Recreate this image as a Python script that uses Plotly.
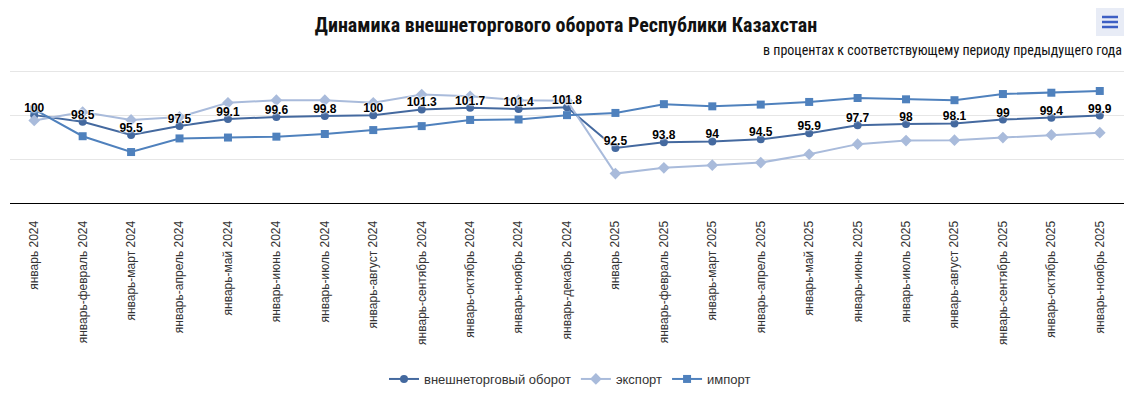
import plotly.graph_objects as go

categories = [
    "январь 2024", "январь-февраль 2024", "январь-март 2024", "январь-апрель 2024",
    "январь-май 2024", "январь-июнь 2024", "январь-июль 2024", "январь-август 2024",
    "январь-сентябрь 2024", "январь-октябрь 2024", "январь-ноябрь 2024", "январь-декабрь 2024",
    "январь 2025", "январь-февраль 2025", "январь-март 2025", "январь-апрель 2025",
    "январь-май 2025", "январь-июнь 2025", "январь-июль 2025", "январь-август 2025",
    "январь-сентябрь 2025", "январь-октябрь 2025", "январь-ноябрь 2025",
]
turnover = [100, 98.5, 95.5, 97.5, 99.1, 99.6, 99.8, 100, 101.3, 101.7, 101.4, 101.8,
            92.5, 93.8, 94, 94.5, 95.9, 97.7, 98, 98.1, 99, 99.4, 99.9]
export = [98.8, 100.7, 98.9, 99.6, 102.8, 103.4, 103.4, 102.8, 104.7, 104.3, 103.4, 103.3,
          86.7, 88.0, 88.6, 89.2, 91.1, 93.4, 94.2, 94.3, 94.9, 95.5, 96.0]
imports = [101.3, 95.2, 91.6, 94.7, 94.9, 95.1, 95.7, 96.6, 97.5, 98.9, 99.0, 100.0,
           100.5, 102.5, 102.0, 102.4, 103.0, 103.9, 103.6, 103.4, 104.8, 105.1, 105.5]

C_TURN = "#44699f"
C_EXP = "#a9bbdb"
C_IMP = "#4f81bd"

# the page body has an 8px margin, so the figure is drawn 8px in from the window edge
OFF = 8
W, H = 1133 - OFF, 398 - OFF
PLOT_LEFT, PLOT_RIGHT = 10 - OFF, 1124 - OFF
PLOT_TOP, PLOT_BOTTOM = 69 - OFF, 203 - OFF
PW = PLOT_RIGHT - PLOT_LEFT
PH = PLOT_BOTTOM - PLOT_TOP


def px(pix):
    return (pix - OFF - PLOT_LEFT) / PW


def py(pix):
    return (PLOT_BOTTOM - (pix - OFF)) / PH


fig = go.Figure()
fig.add_trace(go.Scatter(
    x=categories, y=turnover, name="внешнеторговый оборот", mode="lines+markers",
    line=dict(color=C_TURN, width=2), marker=dict(symbol="circle", size=8, color=C_TURN),
))
fig.add_trace(go.Scatter(
    x=categories, y=export, name="экспорт", mode="lines+markers",
    line=dict(color=C_EXP, width=2), marker=dict(symbol="diamond", size=9, color=C_EXP),
))
fig.add_trace(go.Scatter(
    x=categories, y=imports, name="импорт", mode="lines+markers",
    line=dict(color=C_IMP, width=2), marker=dict(symbol="square", size=8, color=C_IMP),
))
fig.add_trace(go.Scatter(
    x=categories, y=turnover, mode="text", showlegend=False, hoverinfo="skip",
    text=[f"{v:g}" for v in turnover], textposition="top center",
    textfont=dict(family="Liberation Sans, Arial", size=12, color="#000000",
                  weight="bold", shadow="0 0 2px #fff, 0 0 2px #fff, 0 0 2px #fff"),
    cliponaxis=False,
))

fig.update_layout(
    width=W, height=H,
    margin=dict(l=PLOT_LEFT, r=W - PLOT_RIGHT, t=PLOT_TOP, b=H - PLOT_BOTTOM),
    paper_bgcolor="white", plot_bgcolor="white",
    font=dict(family="Liberation Sans, Arial", size=12, color="#222222"),
    title=dict(
        text="<b>Динамика внешнеторгового оборота Республики Казахстан</b>",
        x=(566 - OFF) / W, xanchor="center", y=1 - (25 - OFF) / H, yanchor="middle",
        font=dict(family="Liberation Sans Narrow, Roboto Condensed, Roboto", size=20, color="#111111"),
    ),
    showlegend=True,
    legend=dict(
        orientation="h", traceorder="normal",
        x=px(570), xanchor="center", yref="container", y=1 - (379 - OFF) / H, yanchor="middle",
        font=dict(size=13, color="#333333"),
    ),
    xaxis=dict(
        type="category", range=[-0.5, 22.5], tickangle=-90,
        showgrid=False, showline=True, linecolor="#000000", linewidth=1,
        ticks="", tickfont=dict(size=12, color="#333333"), ticklabelstandoff=12,
        categoryorder="array", categoryarray=categories,
    ),
    yaxis=dict(
        range=[80, 110.5], dtick=10, tick0=80, showticklabels=False, showline=False,
        gridcolor="#e6e6e6", gridwidth=1, zeroline=False,
    ),
    annotations=[dict(
        text="в процентах к соответствующему периоду предыдущего года",
        xref="paper", yref="paper", x=px(1124), xanchor="right",
        y=py(50), yanchor="middle", showarrow=False,
        font=dict(family="Liberation Sans Narrow, Roboto Condensed, Roboto", size=14, color="#111111"),
    )],
    shapes=[
        dict(type="rect", xref="paper", yref="paper", x0=px(1096), x1=px(1124),
             y0=py(36), y1=py(8), fillcolor="#e8ecf6", line=dict(width=0), layer="above"),
    ] + [
        dict(type="line", xref="paper", yref="paper", x0=px(1102), x1=px(1118),
             y0=py(yy), y1=py(yy), line=dict(color="#3d5fc4", width=2.5))
        for yy in (17, 22, 27)
    ],
)

fig.write_html("out.html")
